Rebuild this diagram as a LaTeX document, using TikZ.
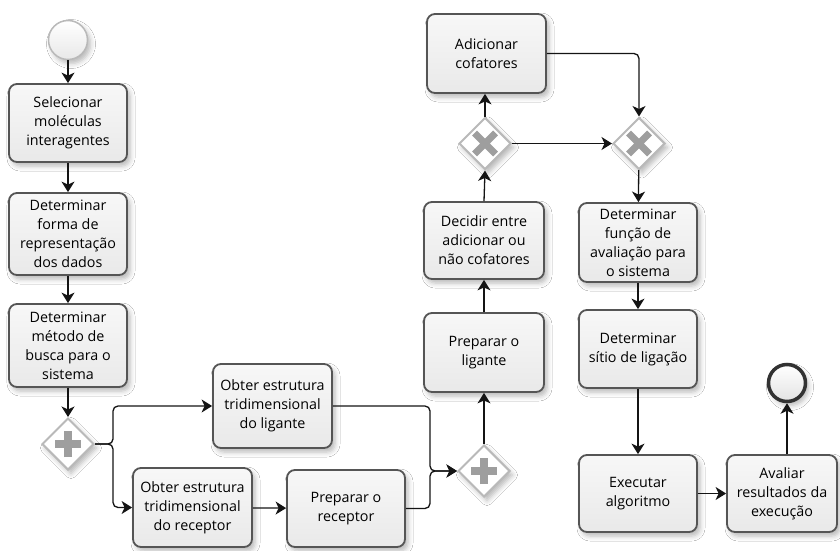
\documentclass[tikz,border=0pt]{standalone}
\usepackage{fontspec}
\setmainfont{Open Sans}
\usetikzlibrary{arrows.meta,shapes.geometric,shadows.blur}

\definecolor{boxline}{RGB}{85,85,85}
\definecolor{boxfill}{RGB}{233,233,233}
\definecolor{gwline}{RGB}{185,185,185}
\definecolor{gwmark}{RGB}{158,158,158}
\definecolor{flowline}{RGB}{20,20,20}
\definecolor{endline}{RGB}{50,50,50}

\begin{document}
\begin{tikzpicture}[x=1pt,y=-1pt,
  softshadow/.style={blur shadow={shadow xshift=3pt, shadow yshift=-4pt,
      shadow blur radius=5pt, shadow opacity=28}},
  task/.style={rectangle, rounded corners=8pt, draw=boxline, line width=1.8pt,
      top color=white!97!black, bottom color=boxfill, align=center, inner sep=0pt,
      minimum width=118pt, minimum height=78pt,
      font=\fontsize{14.3}{19}\selectfont, softshadow},
  gateway/.style={diamond, draw=gwline, line width=2pt, fill=white,
      minimum width=52pt, minimum height=52pt, inner sep=0pt, softshadow},
  andgw/.style={gateway, path picture={
      \draw[gwmark, line width=7.5pt]
        ([xshift=-13pt]path picture bounding box.center) -- ([xshift=13pt]path picture bounding box.center)
        ([yshift=-13pt]path picture bounding box.center) -- ([yshift=13pt]path picture bounding box.center);}},
  xorgw/.style={gateway, path picture={
      \draw[gwmark, line width=7pt]
        ([xshift=-10.5pt,yshift=-10.5pt]path picture bounding box.center) -- ([xshift=10.5pt,yshift=10.5pt]path picture bounding box.center)
        ([xshift=-10.5pt,yshift=10.5pt]path picture bounding box.center) -- ([xshift=10.5pt,yshift=-10.5pt]path picture bounding box.center);}},
  startev/.style={circle, draw=gray!55, line width=1.5pt, top color=white,
      bottom color=gray!18, minimum size=39pt, inner sep=0pt, softshadow},
  endev/.style={circle, draw=endline, line width=3.5pt, top color=white,
      bottom color=gray!22, minimum size=37pt, inner sep=0pt, softshadow},
  flow/.style={draw=flowline, line width=1.3pt, rounded corners=5pt,
      -{Stealth[length=10.5pt, width=13pt, inset=3pt]}}
]
\fill[white] (0,0) rectangle (840,551);
\useasboundingbox (0,0) rectangle (840,551);

% left column
\node[startev] (start) at (68,40) {};
\node[task] (sel) at (68,123) {Selecionar\\moléculas\\interagentes};
\node[task, minimum height=82pt] (forma) at (68,234) {Determinar\\forma de\\representação\\dos dados};
\node[task, minimum height=83pt] (metodo) at (68,345.5) {Determinar\\método de\\busca para o\\sistema};
\node[andgw] (split) at (68,444) {};

% parallel branches
\node[task, minimum width=119pt, minimum height=84pt] (lig) at (272.5,406) {Obter estrutura\\tridimensional\\do ligante};
\node[task, minimum width=119pt, minimum height=79pt] (rec) at (192.5,507.5) {Obter estrutura\\tridimensional\\do receptor};
\node[task, minimum height=77pt] (prepr) at (346,508.5) {Preparar o\\receptor};
\node[andgw] (join) at (484,471) {};
\coordinate (fork) at (113,444);
\coordinate (merge) at (430,471);

% ligand preparation and cofactors
\node[task, minimum width=120pt, minimum height=79pt] (prepl) at (484,352.5) {Preparar o\\ligante};
\node[task, minimum width=120pt, minimum height=77pt] (dec) at (484,240.5) {Decidir entre\\adicionar ou\\não cofatores};
\node[xorgw] (xa) at (485,143.5) {};
\node[task, minimum width=119pt, minimum height=79pt] (add) at (486.5,53.5) {Adicionar\\cofatores};
\node[xorgw] (xb) at (639,143.5) {};

% right column
\node[task, minimum height=79pt] (func) at (638,242.5) {Determinar\\função de\\avaliação para\\o sistema};
\node[task] (sitio) at (638,349) {Determinar\\sítio de ligação};
\node[task, minimum height=77pt] (exec) at (638,493.5) {Executar\\algoritmo};
\node[task, minimum width=110pt, minimum height=77pt] (aval) at (782,493.5) {Avaliar\\resultados da\\execução};
\node[endev] (fim) at (787,383) {};

% sequence flows
\draw[flow] (start) -- (sel);
\draw[flow] (sel) -- (forma);
\draw[flow] (forma) -- (metodo);
\draw[flow] (metodo) -- (split);
\draw[flow] (split.east) -- (fork) |- (lig.west);
\draw[flow] (split.east) -- (fork) |- (rec.west);
\draw[flow] (rec) -- (prepr);
\draw[flow] (lig.east) -| (merge) -- (join.west);
\draw[flow] (prepr.east) -| (merge) -- (join.west);
\draw[flow] (join) -- (prepl);
\draw[flow] (prepl) -- (dec);
\draw[flow] (dec.north) -- (xa.south);
\draw[flow] (xa.north) -- (add.south -| xa.north);
\draw[flow] (xa) -- (xb);
\draw[flow] (add.east) -| (xb.north);
\draw[flow] (xb) -- (func);
\draw[flow] (func) -- (sitio);
\draw[flow] (sitio) -- (exec);
\draw[flow] (exec) -- (aval);
\draw[flow] (fim |- aval.north) -- (fim.south);
\end{tikzpicture}
\end{document}
